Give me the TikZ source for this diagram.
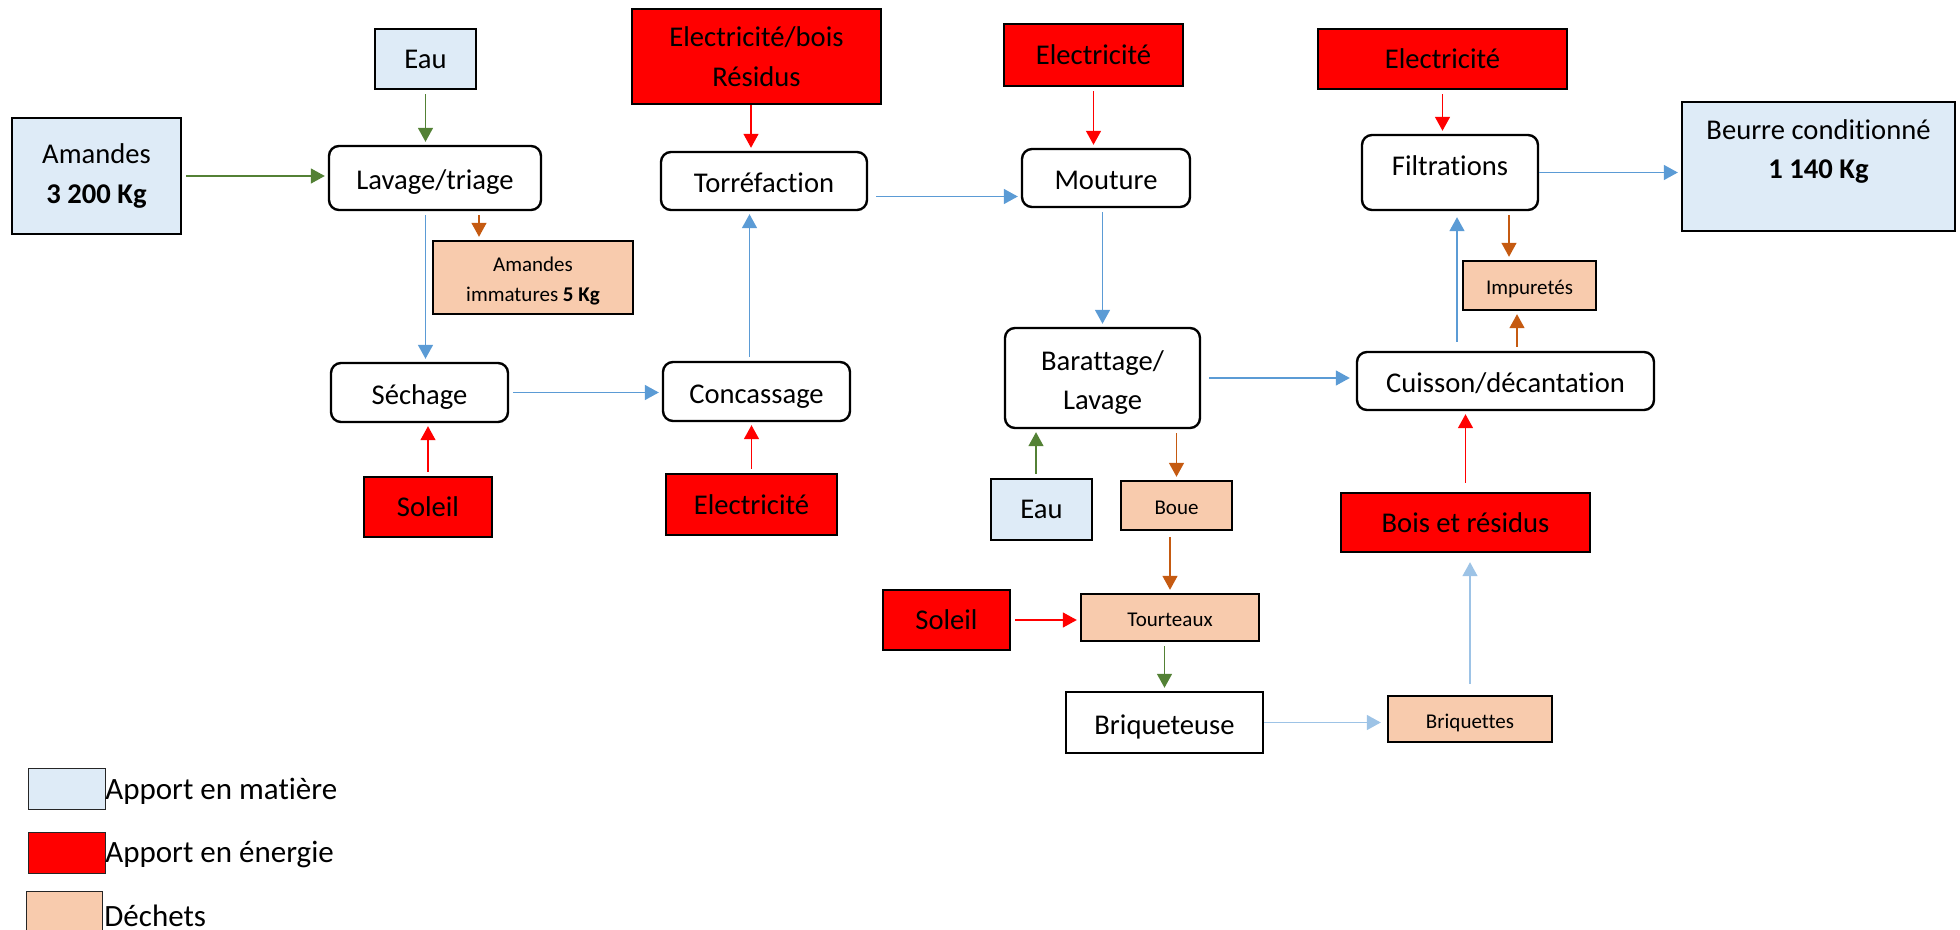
\documentclass[tikz,border=0pt]{standalone}
\usepackage{fontspec}
\setmainfont{Carlito}[Ligatures=NoCommon]
\usetikzlibrary{arrows.meta,calc}
\definecolor{matiere}{HTML}{DEEBF7}
\definecolor{energie}{HTML}{FF0000}
\definecolor{dechet}{HTML}{F8CBAD}
\definecolor{agreen}{HTML}{538135}
\definecolor{ablue}{HTML}{5B9BD5}
\definecolor{abrown}{HTML}{C55A11}
\definecolor{ared}{HTML}{FF0000}
\definecolor{alblue}{HTML}{9DC3E6}
\newcommand\fbig{\fontsize{14.3}{19.7}\selectfont}
\newcommand\fsmall{\fontsize{10.5}{15}\selectfont}
\newcommand\flegend{\fontsize{15.5}{19}\selectfont}
\begin{document}
\begin{tikzpicture}[x=0.5pt,y=-0.5pt,
  base/.style={draw=black, line width=1.2pt, inner sep=0pt, align=center, font=\fbig, text=black},
  low/.style={text height=12pt, text depth=0pt},
  mat/.style={base, fill=matiere},
  ene/.style={base, fill=energie},
  dech/.style={base, fill=dechet, font=\fsmall, text height=9pt, text depth=0pt},
  proc/.style={base, low, fill=white, rounded corners=5pt},
  sz/.style 2 args={minimum width=#1*0.5pt, minimum height=#2*0.5pt},
  legbox/.style={draw=black!85, line width=0.5pt, inner sep=0pt},
  legtxt/.style={anchor=base west, font=\flegend, inner sep=0pt},
  arr/.style={line width=0.75pt, -{Triangle[width=7.5pt,length=7pt]}, shorten <=2pt, shorten >=1.5pt},
  garr/.style={arr, draw=agreen, fill=agreen},
  barr/.style={arr, draw=ablue, fill=ablue},
  rarr/.style={arr, draw=ared, fill=ared},
  brarr/.style={arr, draw=abrown, fill=abrown},
  lbarr/.style={arr, draw=alblue, fill=alblue}
]
\useasboundingbox (0,0) rectangle (1960,930);

% nodes
\node[mat, sz={101}{60}] (eau1) at (425.5,59) {Eau};
\node[mat, sz={169}{116}] (amandes) at (96.5,176) {Amandes\\\textbf{3 200 Kg}};
\node[proc, sz={212}{64}] (lavage) at (435,178) {Lavage/triage};
\node[dech, text height=24pt, sz={200}{73}] (immat) at (533,277.5) {Amandes\\immatures \textbf{5 Kg}};
\node[proc, sz={177}{59}] (sechage) at (419.5,392.5) {Séchage};
\node[ene, sz={128}{60}] (soleil1) at (428,507) {Soleil};
\node[ene, sz={249}{95}] (elecbois) at (756.5,56.5) {Electricité/bois\\Résidus};
\node[proc, sz={206}{58}] (torre) at (764,181) {Torréfaction};
\node[proc, sz={187}{59}] (concas) at (756.5,391.5) {Concassage};
\node[ene, sz={171}{61}] (elec2) at (751.5,504.5) {Electricité};
\node[ene, sz={179}{62}] (elecM) at (1093.5,55) {Electricité};
\node[proc, sz={168}{58}] (mouture) at (1106,178) {Mouture};
\node[proc, text height=31.7pt, sz={195}{100}] (baratt) at (1102.5,378) {Barattage/\\Lavage};
\node[mat, sz={101}{61}] (eau2) at (1041.5,509.5) {Eau};
\node[dech, sz={111}{49}] (boue) at (1176.5,505.5) {Boue};
\node[ene, sz={127}{60}] (soleil2) at (946.5,620) {Soleil};
\node[dech, sz={178}{47}] (tourt) at (1170,617.5) {Tourteaux};
\node[base, low, fill=white, sz={197}{61}] (briqr) at (1164.5,722.5) {Briqueteuse};
\node[dech, text height=9.7pt, sz={164}{46}] (briqt) at (1470,719) {Briquettes};
\node[ene, sz={249}{59}] (bois) at (1465.5,522.5) {Bois et résidus};
\node[proc, sz={297}{58}] (cuisson) at (1505.5,381) {Cuisson/décantation};
\node[dech, sz={133}{49}] (impur) at (1529.5,285.5) {Impuretés};
\node[proc, text height=9.5pt, text depth=6pt, sz={176}{75}] (filtr) at (1450,172.5) {Filtrations};
\node[ene, sz={249}{60}] (elecF) at (1442.5,59) {Electricité};
\node[mat, sz={273}{129}] (beurre) at (1818.5,166.5) {};
\node[align=center, font=\fbig, inner sep=0pt] (beurretxt) at (1818.5,151.5) {Beurre conditionné\\\textbf{1 140 Kg}};

% connectors
\draw[garr] (eau1.south) -- (eau1.south |- lavage.north);
\draw[garr] (amandes.east) -- (amandes.east -| lavage.west);
\draw[barr] (lavage.south -| eau1.south) -- (sechage.north -| eau1.south);
\coordinate (lw) at ([xshift=22pt]lavage.south);
\draw[brarr] (lw) -- (lw |- immat.north);
\draw[rarr] (soleil1.north) -- (soleil1.north |- sechage.south);
\draw[barr] (sechage.east) -- (sechage.east -| concas.west);
\draw[rarr] (elec2.north) -- (elec2.north |- concas.south);
\coordinate (cx) at ([xshift=-3.5pt]concas.north);
\draw[barr] (cx) -- (cx |- torre.south);
\coordinate (ex) at ([xshift=-2.75pt]elecbois.south);
\draw[rarr, shorten <=0pt] (ex) -- (ex |- torre.north);
\coordinate (tx) at ([yshift=-7.75pt]torre.east);
\draw[barr, shorten <=4pt] (tx) -- (tx -| mouture.west);
\draw[rarr] (elecM.south) -- (elecM.south |- mouture.north);
\draw[barr] (baratt.north |- mouture.south) -- (baratt.north);
\draw[barr, shorten <=4pt, shorten >=3pt] (baratt.east) -- (baratt.east -| cuisson.west);
\coordinate (gx) at ([xshift=-2.75pt]eau2.north);
\draw[garr] (gx) -- (gx |- baratt.south);
\draw[brarr] (boue.north |- baratt.south) -- (boue.north);
\draw[brarr, shorten <=3pt] (boue.south -| tourt.north) -- (tourt.north);
\draw[rarr] (soleil2.east) -- (soleil2.east -| tourt.west);
\draw[garr] (tourt.south -| briqr.north) -- (briqr.north);
\draw[lbarr, shorten <=0pt, shorten >=3pt] (briqr.east) -- (briqr.east -| briqt.west);
\draw[lbarr, shorten <=5.5pt, shorten >=4.5pt] (briqt.north) -- (briqt.north |- bois.south);
\draw[rarr, shorten <=4.5pt] (bois.north) -- (bois.north |- cuisson.south);
\coordinate (fx) at ([xshift=3.5pt]filtr.south);
\draw[barr, shorten <=4.5pt, shorten >=3pt] (cuisson.north -| fx) -- (fx);
\coordinate (ix) at ([xshift=-10.25pt]impur.north);
\draw[brarr] (filtr.south -| ix) -- (ix);
\coordinate (iy) at ([xshift=-6.25pt]impur.south);
\draw[brarr] (cuisson.north -| iy) -- (iy);
\draw[rarr] (elecF.south) -- (elecF.south |- filtr.north);
\draw[barr, shorten <=0pt] (filtr.east) -- (filtr.east -| beurre.west);

% legend
\node[legbox, fill=matiere, sz={77}{41}] (leg1) at (66.5,788.5) {};
\node[legtxt] (leg1t) at (105,799) {Apport en matière};
\node[legbox, fill=energie, sz={77}{41}] (leg2) at (66.5,852.5) {};
\node[legtxt] (leg2t) at (105,862) {Apport en énergie};
\node[legbox, fill=dechet, sz={76}{44}] (leg3) at (64,913) {};
\node[legtxt] (leg3t) at (104,926) {Déchets};
\end{tikzpicture}
\end{document}
